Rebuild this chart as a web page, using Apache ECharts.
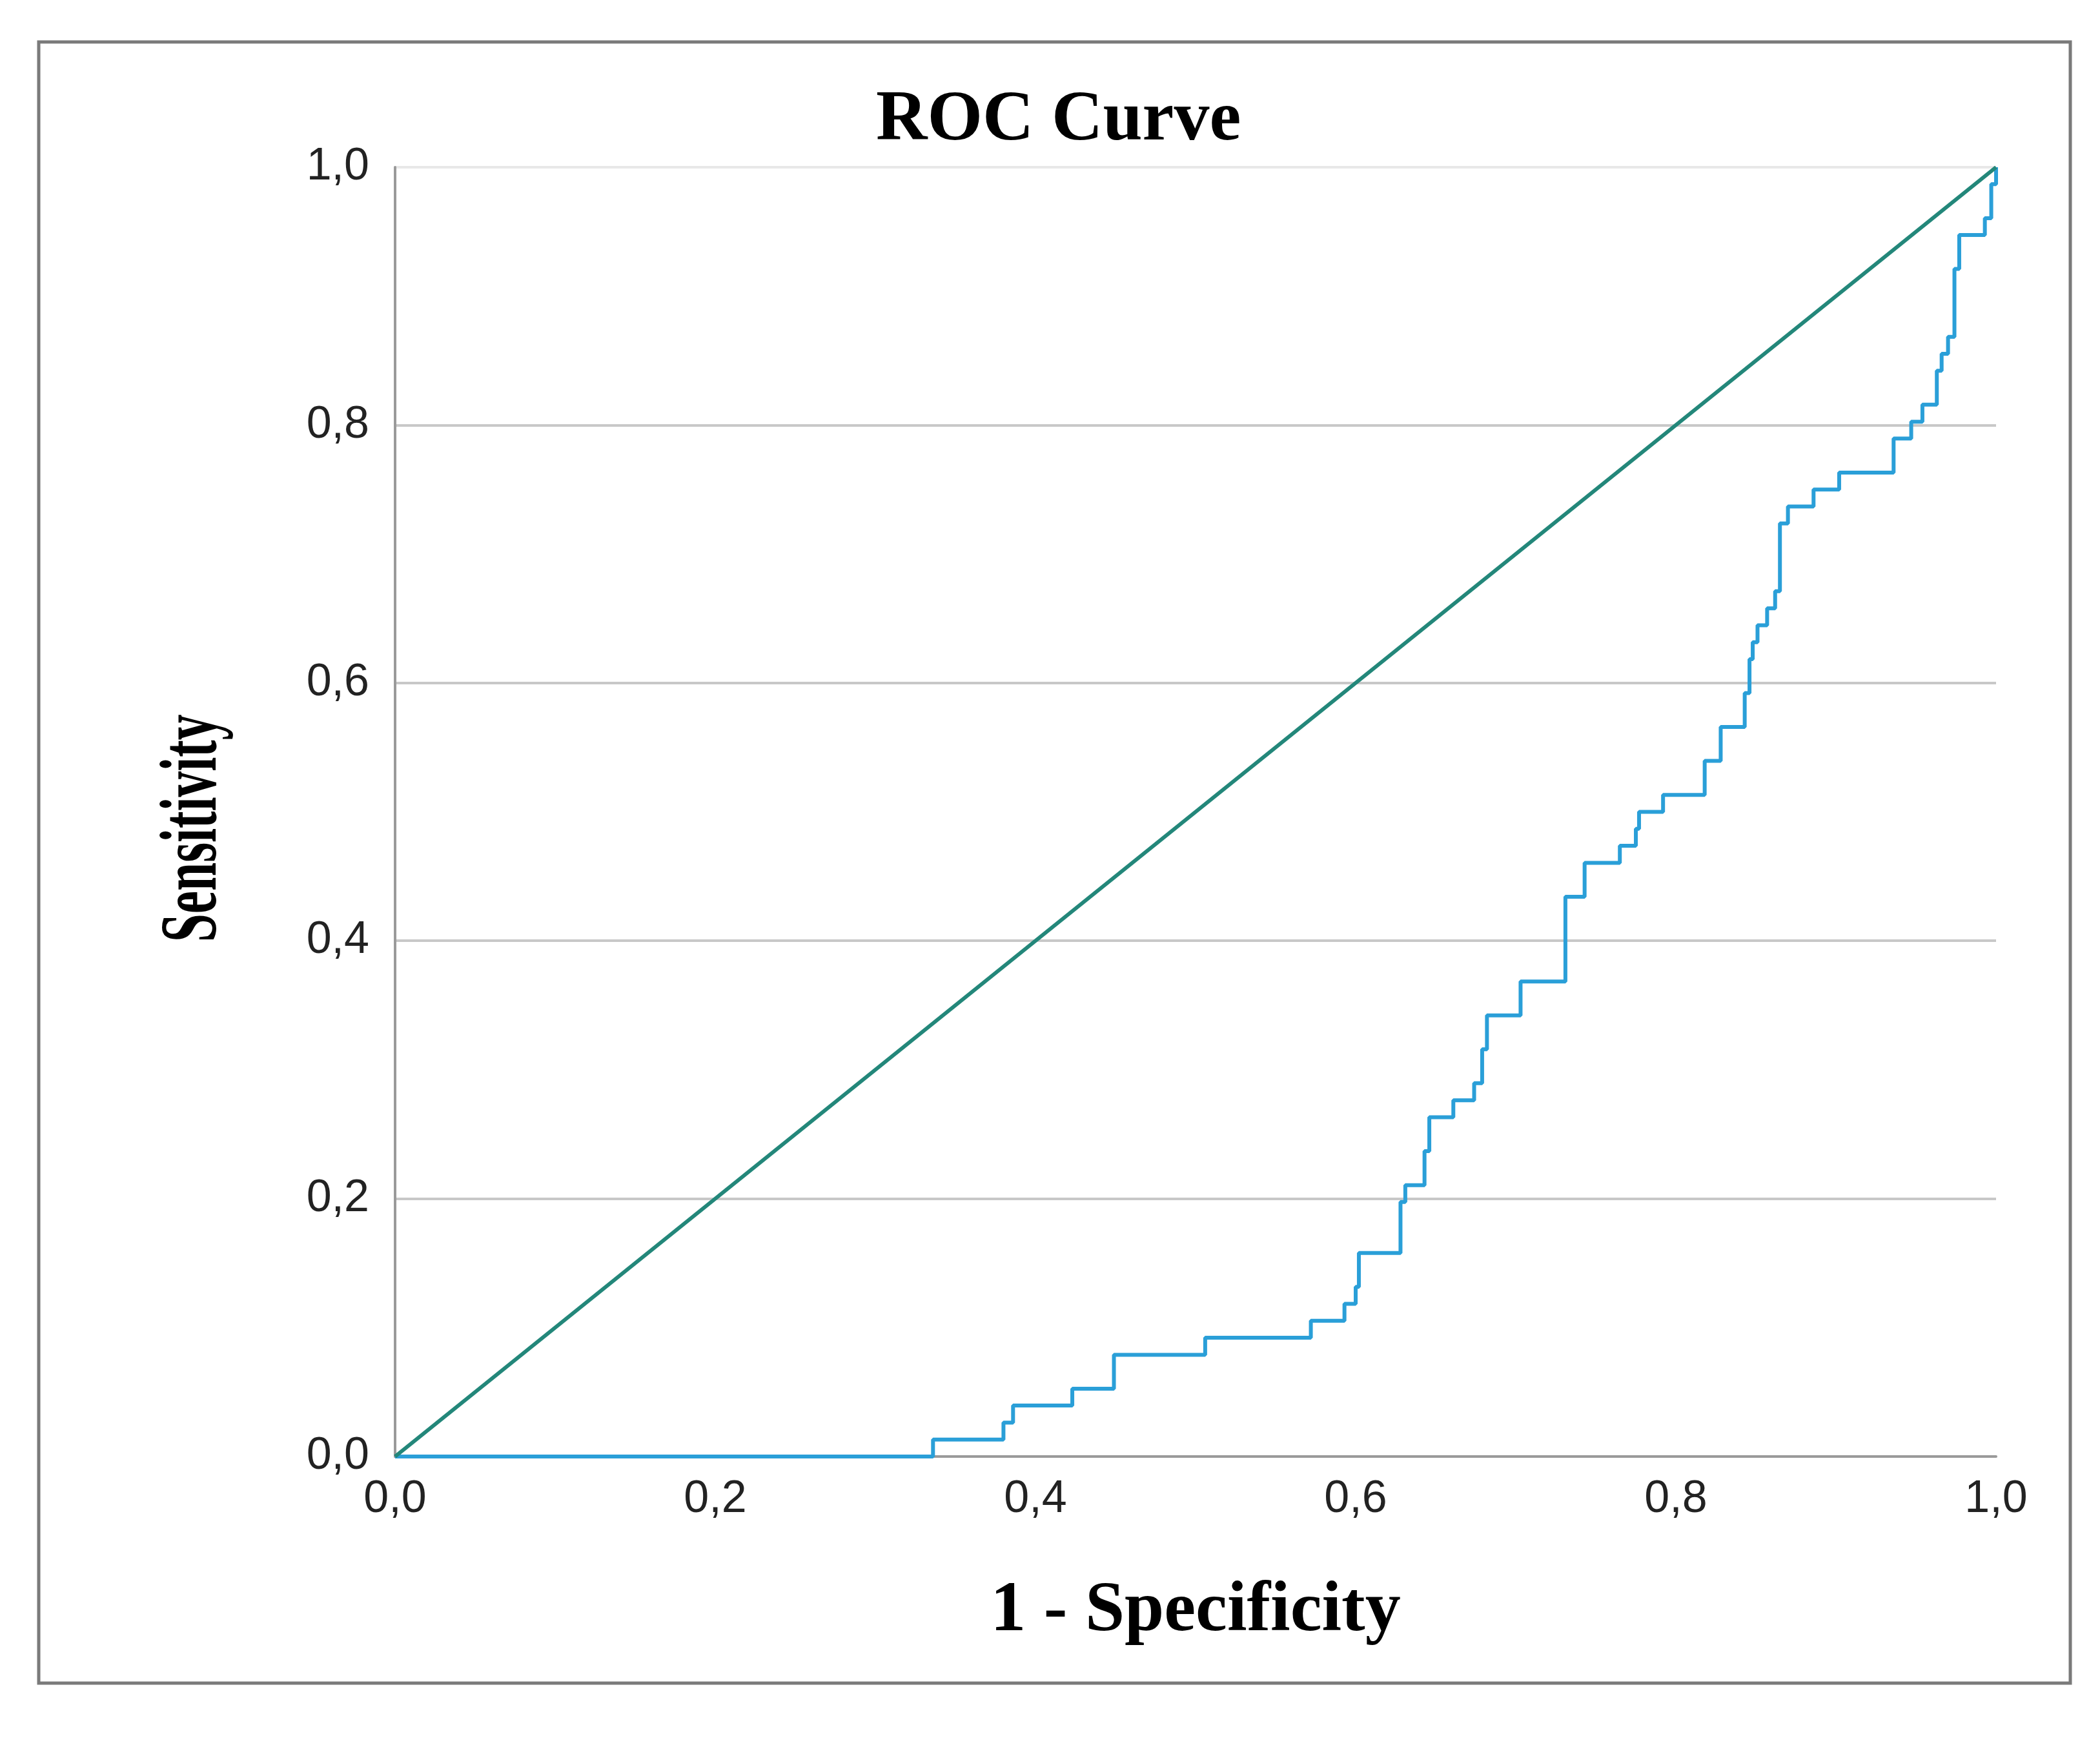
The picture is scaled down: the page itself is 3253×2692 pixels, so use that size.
<!DOCTYPE html>
<html>
<head>
<meta charset="utf-8">
<script src="https://cdn.jsdelivr.net/npm/echarts@6/dist/echarts.min.js"></script>
<style>
html,body{margin:0;padding:0;background:#fff;}
#chart{width:3253px;height:2692px;}
</style>
</head>
<body>
<div id="chart"></div>
<script>
// 1 - Specificity (x) and Sensitivity (y) at each corner of the ROC staircase
const fpr = [0,0.336,0.336,0.380,0.380,0.386,0.386,0.423,0.423,0.449,0.449,0.506,0.506,0.572,0.572,0.593,0.593,0.600,0.600,0.602,0.602,0.628,0.628,0.631,0.631,0.643,0.643,0.646,0.646,0.661,0.661,0.674,0.674,0.679,0.679,0.682,0.682,0.703,0.703,0.731,0.731,0.743,0.743,0.765,0.765,0.775,0.775,0.777,0.777,0.792,0.792,0.818,0.818,0.828,0.828,0.843,0.843,0.846,0.846,0.848,0.848,0.851,0.851,0.857,0.857,0.862,0.862,0.865,0.865,0.870,0.870,0.886,0.886,0.902,0.902,0.936,0.936,0.947,0.947,0.954,0.954,0.963,0.963,0.966,0.966,0.970,0.970,0.974,0.974,0.977,0.977,0.993,0.993,0.997,0.997,1,1];
const tpr = [0,0,0.0132,0.0132,0.0263,0.0263,0.0395,0.0395,0.0526,0.0526,0.0789,0.0789,0.0921,0.0921,0.1053,0.1053,0.1184,0.1184,0.1316,0.1316,0.1579,0.1579,0.1974,0.1974,0.2105,0.2105,0.2368,0.2368,0.2632,0.2632,0.2763,0.2763,0.2895,0.2895,0.3158,0.3158,0.3421,0.3421,0.3684,0.3684,0.4342,0.4342,0.4605,0.4605,0.4737,0.4737,0.4868,0.4868,0.5000,0.5000,0.5132,0.5132,0.5395,0.5395,0.5658,0.5658,0.5921,0.5921,0.6184,0.6184,0.6316,0.6316,0.6447,0.6447,0.6579,0.6579,0.6711,0.6711,0.7237,0.7237,0.7368,0.7368,0.7500,0.7500,0.7632,0.7632,0.7895,0.7895,0.8026,0.8026,0.8158,0.8158,0.8421,0.8421,0.8553,0.8553,0.8684,0.8684,0.9211,0.9211,0.9474,0.9474,0.9605,0.9605,0.9868,0.9868,1];
// reference (chance) line
const refX = [0, 1];
const refY = [0, 1];
const tickValues = [0, 0.2, 0.4, 0.6, 0.8, 1.0];
const titleText = 'ROC Curve';
const xName = '1 - Specificity';
const yName = 'Sensitivity';

const fmt = v => v.toFixed(1).replace('.', ',');
const chart = echarts.init(document.getElementById('chart'), null, {renderer: 'canvas'});
const tickFont = {fontFamily: '"Liberation Sans", Arial, sans-serif', fontSize: 70, color: '#222'};

chart.setOption({
  animation: false,
  backgroundColor: '#fff',
  title: {
    text: titleText,
    left: 1352,
    top: 128,
    textStyle: {fontFamily: '"Liberation Serif", "Times New Roman", serif', fontWeight: 'bold', fontSize: 110, color: '#000'}
  },
  grid: {left: 612, right: 161, top: 259, bottom: 436, containLabel: false},
  xAxis: {
    type: 'value', min: 0, max: 1, interval: 0.2,
    name: xName, nameLocation: 'middle', nameGap: 186,
    nameTextStyle: {fontFamily: '"Liberation Serif", "Times New Roman", serif', fontWeight: 'bold', fontSize: 110, color: '#000'},
    axisLine: {show: true, lineStyle: {color: '#9a9a9a', width: 4}},
    axisTick: {show: false},
    splitLine: {show: false},
    axisLabel: Object.assign({margin: 32, formatter: fmt}, tickFont)
  },
  yAxis: {
    type: 'value', min: 0, max: 1, interval: 0.2,
    axisLine: {show: true, lineStyle: {color: '#9a9a9a', width: 4}},
    axisTick: {show: false},
    splitLine: {show: true, lineStyle: {color: ['#c8c8c8', '#c8c8c8', '#c8c8c8', '#c8c8c8', '#c8c8c8', '#e8e8e8'], width: 4}},
    axisLabel: Object.assign({margin: 40, formatter: fmt}, tickFont)
  },
  graphic: [
    {
      type: 'rect', silent: true, z: -1,
      shape: {x: 60, y: 65, width: 3147, height: 2542},
      style: {fill: 'none', stroke: '#7a7a7a', lineWidth: 5}
    },
    {
      type: 'text', x: 302, y: 1283, rotation: Math.PI / 2, scaleX: 0.64,
      style: {
        text: yName,
        font: 'bold 124px "Liberation Serif", "Times New Roman", serif',
        fill: '#000', align: 'center', verticalAlign: 'middle',
        textAlign: 'center', textVerticalAlign: 'middle'
      }
    }
  ],
  series: [
    {
      type: 'line', name: 'Reference', symbol: 'none', z: 3,
      data: refX.map((x, i) => [x, refY[i]]),
      lineStyle: {color: '#23877a', width: 6}
    },
    {
      type: 'line', name: 'ROC', symbol: 'none', z: 2,
      data: fpr.map((x, i) => [x, tpr[i]]),
      lineStyle: {color: '#2a9fd8', width: 6}
    }
  ]
});
</script>
</body>
</html>
